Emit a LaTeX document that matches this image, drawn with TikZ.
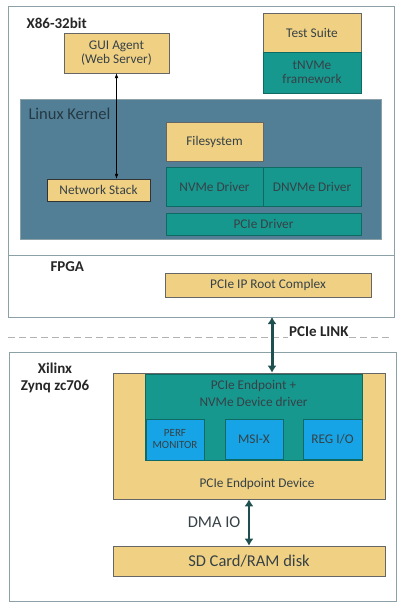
\documentclass[tikz,border=0pt]{standalone}
\usepackage{fontspec}
\setmainfont{Carlito}
\usetikzlibrary{arrows.meta, positioning}
\definecolor{tan}{RGB}{240, 209, 132}
\definecolor{tealbox}{RGB}{22, 152, 143}
\definecolor{kernelfill}{RGB}{82, 127, 150}
\definecolor{perfblue}{RGB}{22, 164, 230}
\definecolor{framegray}{RGB}{140, 160, 168}
\definecolor{linkteal}{RGB}{30, 80, 80}
\definecolor{darktext}{RGB}{55, 65, 70}

\begin{document}
\begin{tikzpicture}[
            x=1pt, y=-1pt,
            block/.style={rectangle, draw=gray!80!black, semithick, fill=tan,
                          inner sep=0pt, align=center, text=darktext,
                          font=\fontsize{13.3}{14.5}\selectfont},
            tealblock/.style={block, fill=tealbox, draw=tealbox!70!black},
            blueblock/.style={block, fill=perfblue, draw=tealbox!70!black,
                          font=\fontsize{11}{12}\selectfont},
            frame/.style={draw=framegray, semithick},
            title/.style={font=\bfseries\fontsize{15}{16.5}\selectfont, text=black!85},
            arrow/.style={{Latex}-{Latex}, thin},
            biglink/.style={{Latex[length=7pt,width=9pt]}-{Latex[length=7pt,width=9pt]},
                          line width=3pt, linkteal},
        ]
            \useasboundingbox (0,0) rectangle (404,614);

            % host side
            \draw[frame] (8,6) rectangle (394,317);
            \draw[frame] (8,255) -- (394,255);
            \node[title, anchor=west] (x86) at (23,23) {X86-32bit};
            \node[title, anchor=west] (fpga) at (47,267) {FPGA};

            \node[block, minimum width=105, minimum height=40] (gui) at (116.5,53) {GUI Agent\\(Web Server)};
            \node[block, minimum width=98, minimum height=39] (suite) at (312,32.5) {Test Suite};
            \node[tealblock, minimum width=98, minimum height=41] (tnvme) at (312,72.5) {tNVMe\\framework};

            \node[rectangle, fill=kernelfill, draw=framegray, minimum width=361, minimum height=140] (kernel) at (200.5,169) {};
            \node[anchor=west, text=kernelfill!45!black, font=\fontsize{16.5}{18}\selectfont] (kernlabel) at (25,114) {Linux Kernel};

            \node[block, minimum width=97, minimum height=39] (fs) at (214.5,141.5) {Filesystem};
            \node[tealblock, minimum width=97, minimum height=39] (nvme) at (214.5,186.5) {NVMe Driver};
            \node[tealblock, minimum width=98, minimum height=39] (dnvme) at (312,186.5) {DNVMe Driver};
            \node[tealblock, minimum width=195, minimum height=22] (pcidrv) at (263.5,224) {PCIe Driver};
            \node[block, draw=black!80, minimum width=103, minimum height=22] (netstack) at (98.5,190) {Network Stack};

            \draw[arrow] (gui.south) -- (gui.south |- netstack.north);

            \node[block, minimum width=206, minimum height=24] (rootcx) at (268,285) {PCIe IP Root Complex};

            % link
            \draw[gray!60, dashed, dash pattern=on 7pt off 4pt, semithick] (8,337) -- (392,337);
            \node[title, anchor=west, fill=white, inner sep=1pt] (linklabel) at (288,332) {PCIe LINK};

            % device side
            \draw[frame] (9,352) rectangle (396,601);
            \node[title, align=center] (zynq) at (55,378) {Xilinx\\Zynq zc706};

            \node[block, minimum width=272, minimum height=126] (epdev) at (249,436) {};
            \node[text=darktext, font=\fontsize{13.3}{14.5}\selectfont] (eplabel) at (257,484) {PCIe Endpoint Device};
            \node[tealblock, minimum width=217, minimum height=86] (epdrv) at (253.5,417) {};
            \node[text=darktext, font=\fontsize{13.3}{17}\selectfont, align=center] (drvlabel) at (253.5,393.5) {PCIe Endpoint +\\NVMe Device driver};
            \node[blueblock, minimum width=58, minimum height=41] (perf) at (175,439.5) {PERF\\MONITOR};
            \node[blueblock, minimum width=58, minimum height=40, font=\fontsize{13.3}{14.5}\selectfont] (msix) at (254,439) {MSI-X};
            \node[blueblock, minimum width=59, minimum height=40, font=\fontsize{13.3}{14.5}\selectfont] (regio) at (332.5,439) {REG I/O};

            \node[block, minimum width=272, minimum height=30, font=\fontsize{16.5}{18}\selectfont] (sd) at (249,561) {SD Card/RAM disk};

            \coordinate (linktop) at (272,317);
            \draw[biglink] (linktop) -- (linktop |- epdev.north);
            \draw[biglink, line width=2.5pt] (epdev.south) -- node[left=4pt, text=darktext, font=\fontsize{16.5}{18}\selectfont] {DMA IO} (sd.north);
        \end{tikzpicture}
\end{document}
